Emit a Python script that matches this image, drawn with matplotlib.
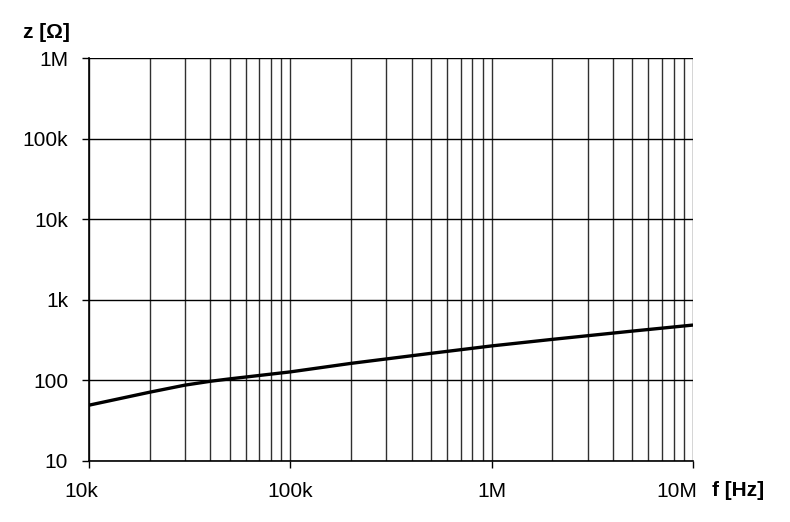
import matplotlib.pyplot as plt
import matplotlib.transforms as mtransforms
import numpy as np

plt.rcParams['font.family'] = ['Liberation Sans', 'DejaVu Sans']

# impedance curve
freq = [1e4, 2e4, 3e4, 4e4, 5e4, 1e5, 2e5, 5e5, 1e6, 2e6, 5e6, 1e7]
imp = [49, 71, 87, 97, 104, 127, 162, 216, 267, 322, 408, 485]

x_ticks = [1e4, 1e5, 1e6, 1e7]
x_labels = ['10k', '100k', '1M', '10M']
y_ticks = [10, 100, 1e3, 1e4, 1e5, 1e6]
y_labels = ['10', '100', '1k', '10k', '100k', '1M']

fig = plt.figure(figsize=(7.9, 5.22), dpi=100)
ax = fig.add_axes([0.1127, 0.1174, 0.7646, 0.7709])

ax.set_xscale('log')
ax.set_yscale('log')
ax.set_xlim(1e4, 1e7)
ax.set_ylim(10, 1e6)

# vertical grid at every minor step, horizontal only at decades
minor_x = [m * d for d in [1e4, 1e5, 1e6] for m in range(2, 10)]
for v in minor_x + x_ticks:
    ax.axvline(v, color='#303030', lw=1.0, zorder=1)
for h in y_ticks:
    ax.axhline(h, color='black', lw=1.0, zorder=1)

ax.plot(freq, imp, color='black', lw=2.4, zorder=3, solid_capstyle='butt')

ax.set_xticks(x_ticks)
ax.set_xticklabels(x_labels)
ax.set_yticks(y_ticks)
ax.set_yticklabels(y_labels)
ax.minorticks_off()
ax.tick_params(axis='both', direction='out', length=5, width=1, color='black',
               labelsize=15)
ax.tick_params(axis='x', pad=10)
ax.tick_params(axis='y', pad=10)

for s in ['top', 'right']:
    ax.spines[s].set_visible(False)
for s in ['left', 'bottom']:
    ax.spines[s].set_linewidth(1.2)

# nudge the end labels like the original
xl = ax.get_xticklabels()
xl[0].set_transform(xl[0].get_transform() + mtransforms.ScaledTranslation(-8 / 100, 0, fig.dpi_scale_trans))
xl[-1].set_transform(xl[-1].get_transform() + mtransforms.ScaledTranslation(-16 / 100, 0, fig.dpi_scale_trans))

fig.text(70 / 790, 1 - 33 / 522, 'z [Ω]', ha='right', va='center', fontsize=15, fontweight='bold')
fig.text(712 / 790, 1 - 491 / 522, 'f [Hz]', ha='left', va='center', fontsize=15, fontweight='bold')

fig.savefig('out.png', dpi=100)
